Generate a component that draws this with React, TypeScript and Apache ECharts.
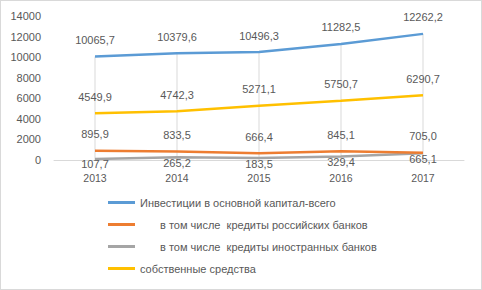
import React, { useEffect, useRef } from "react";
import * as echarts from "echarts";

const years = ["2013", "2014", "2015", "2016", "2017"];
const totalInvest = [10065.7, 10379.6, 10496.3, 11282.5, 12262.2];
const rusCredits = [895.9, 833.5, 666.4, 845.1, 705.0];
const foreignCredits = [107.7, 265.2, 183.5, 329.4, 665.1];
const ownFunds = [4549.9, 4742.3, 5271.1, 5750.7, 6290.7];
const seriesNames = [
  "Инвестиции в основной капитал-всего",
  "в том числе  кредиты российских банков",
  "в том числе  кредиты иностранных банков",
  "собственные средства",
];
const colors = ["#5B9BD5", "#ED7D31", "#A5A5A5", "#FFC000"];

const fmt = (v: number) => v.toFixed(1).replace(".", ",");

export default function App() {
  const ref = useRef<HTMLDivElement>(null);
  useEffect(() => {
    if (!ref.current) return;
    const chart = echarts.init(ref.current, null, { renderer: "svg" });
    const font = "'Liberation Sans', Arial, sans-serif";
    const mkLine = (i: number, data: number[], pos: any, dist: number) => ({
      name: seriesNames[i],
      type: "line",
      data,
      symbol: "circle",
      symbolSize: 0,
      showSymbol: true,
      lineStyle: { width: 2.5, color: colors[i] },
      itemStyle: { color: colors[i] },
      z: 5 - i,
      label: {
        show: true,
        position: pos,
        distance: dist,
        color: "#595959",
        fontSize: 11,
        fontFamily: font,
        formatter: (p: any) => fmt(p.value),
      },
    });
    chart.setOption({
      animation: false,
      backgroundColor: "#fff",
      textStyle: { fontFamily: font },
      grid: { left: 53, right: 17, top: 15, bottom: 129, containLabel: false },
      xAxis: {
        type: "category",
        data: years,
        boundaryGap: true,
        axisLine: { lineStyle: { color: "#D9D9D9" } },
        axisTick: { show: false },
        axisLabel: { color: "#595959", fontSize: 10.5, margin: 12, fontFamily: font },
      },
      yAxis: {
        type: "value",
        min: 0,
        max: 14000,
        interval: 2000,
        axisLine: { show: false },
        axisTick: { show: false },
        splitLine: { show: false },
        axisLabel: {
          color: "#595959",
          fontSize: 11,
          margin: 13,
          fontFamily: font,
          formatter: (v: number) => String(v),
        },
      },
      legend: {
        orient: "vertical",
        left: 102,
        top: 191,
        itemWidth: 27,
        itemHeight: 3,
        itemGap: 11,
        icon: "rect",
        data: seriesNames,
        textStyle: {
          color: "#595959",
          fontSize: 11,
          fontFamily: font,
          rich: { ind: { width: 20 } },
        },
        formatter: (name: string) =>
          name.startsWith("в том") ? "{ind|}" + name : name,
      },
      series: [
        {
          name: "drop",
          type: "bar",
          data: totalInvest,
          barWidth: 1,
          itemStyle: { color: "#D9D9D9" },
          z: 1,
          silent: true,
        },
        mkLine(0, totalInvest, "top", 11),
        mkLine(1, rusCredits, "top", 11),
        mkLine(2, foreignCredits, "bottom", 0),
        mkLine(3, ownFunds, "top", 11),
      ],
    });
    return () => chart.dispose();
  }, []);
  return (
    <div
      style={{
        position: "fixed",
        left: 0,
        top: 0,
        width: 482,
        height: 290,
        boxSizing: "border-box",
        border: "1px solid #D9D9D9",
        background: "#fff",
      }}
    >
      <div ref={ref} style={{ width: 480, height: 288 }} />
    </div>
  );
}
